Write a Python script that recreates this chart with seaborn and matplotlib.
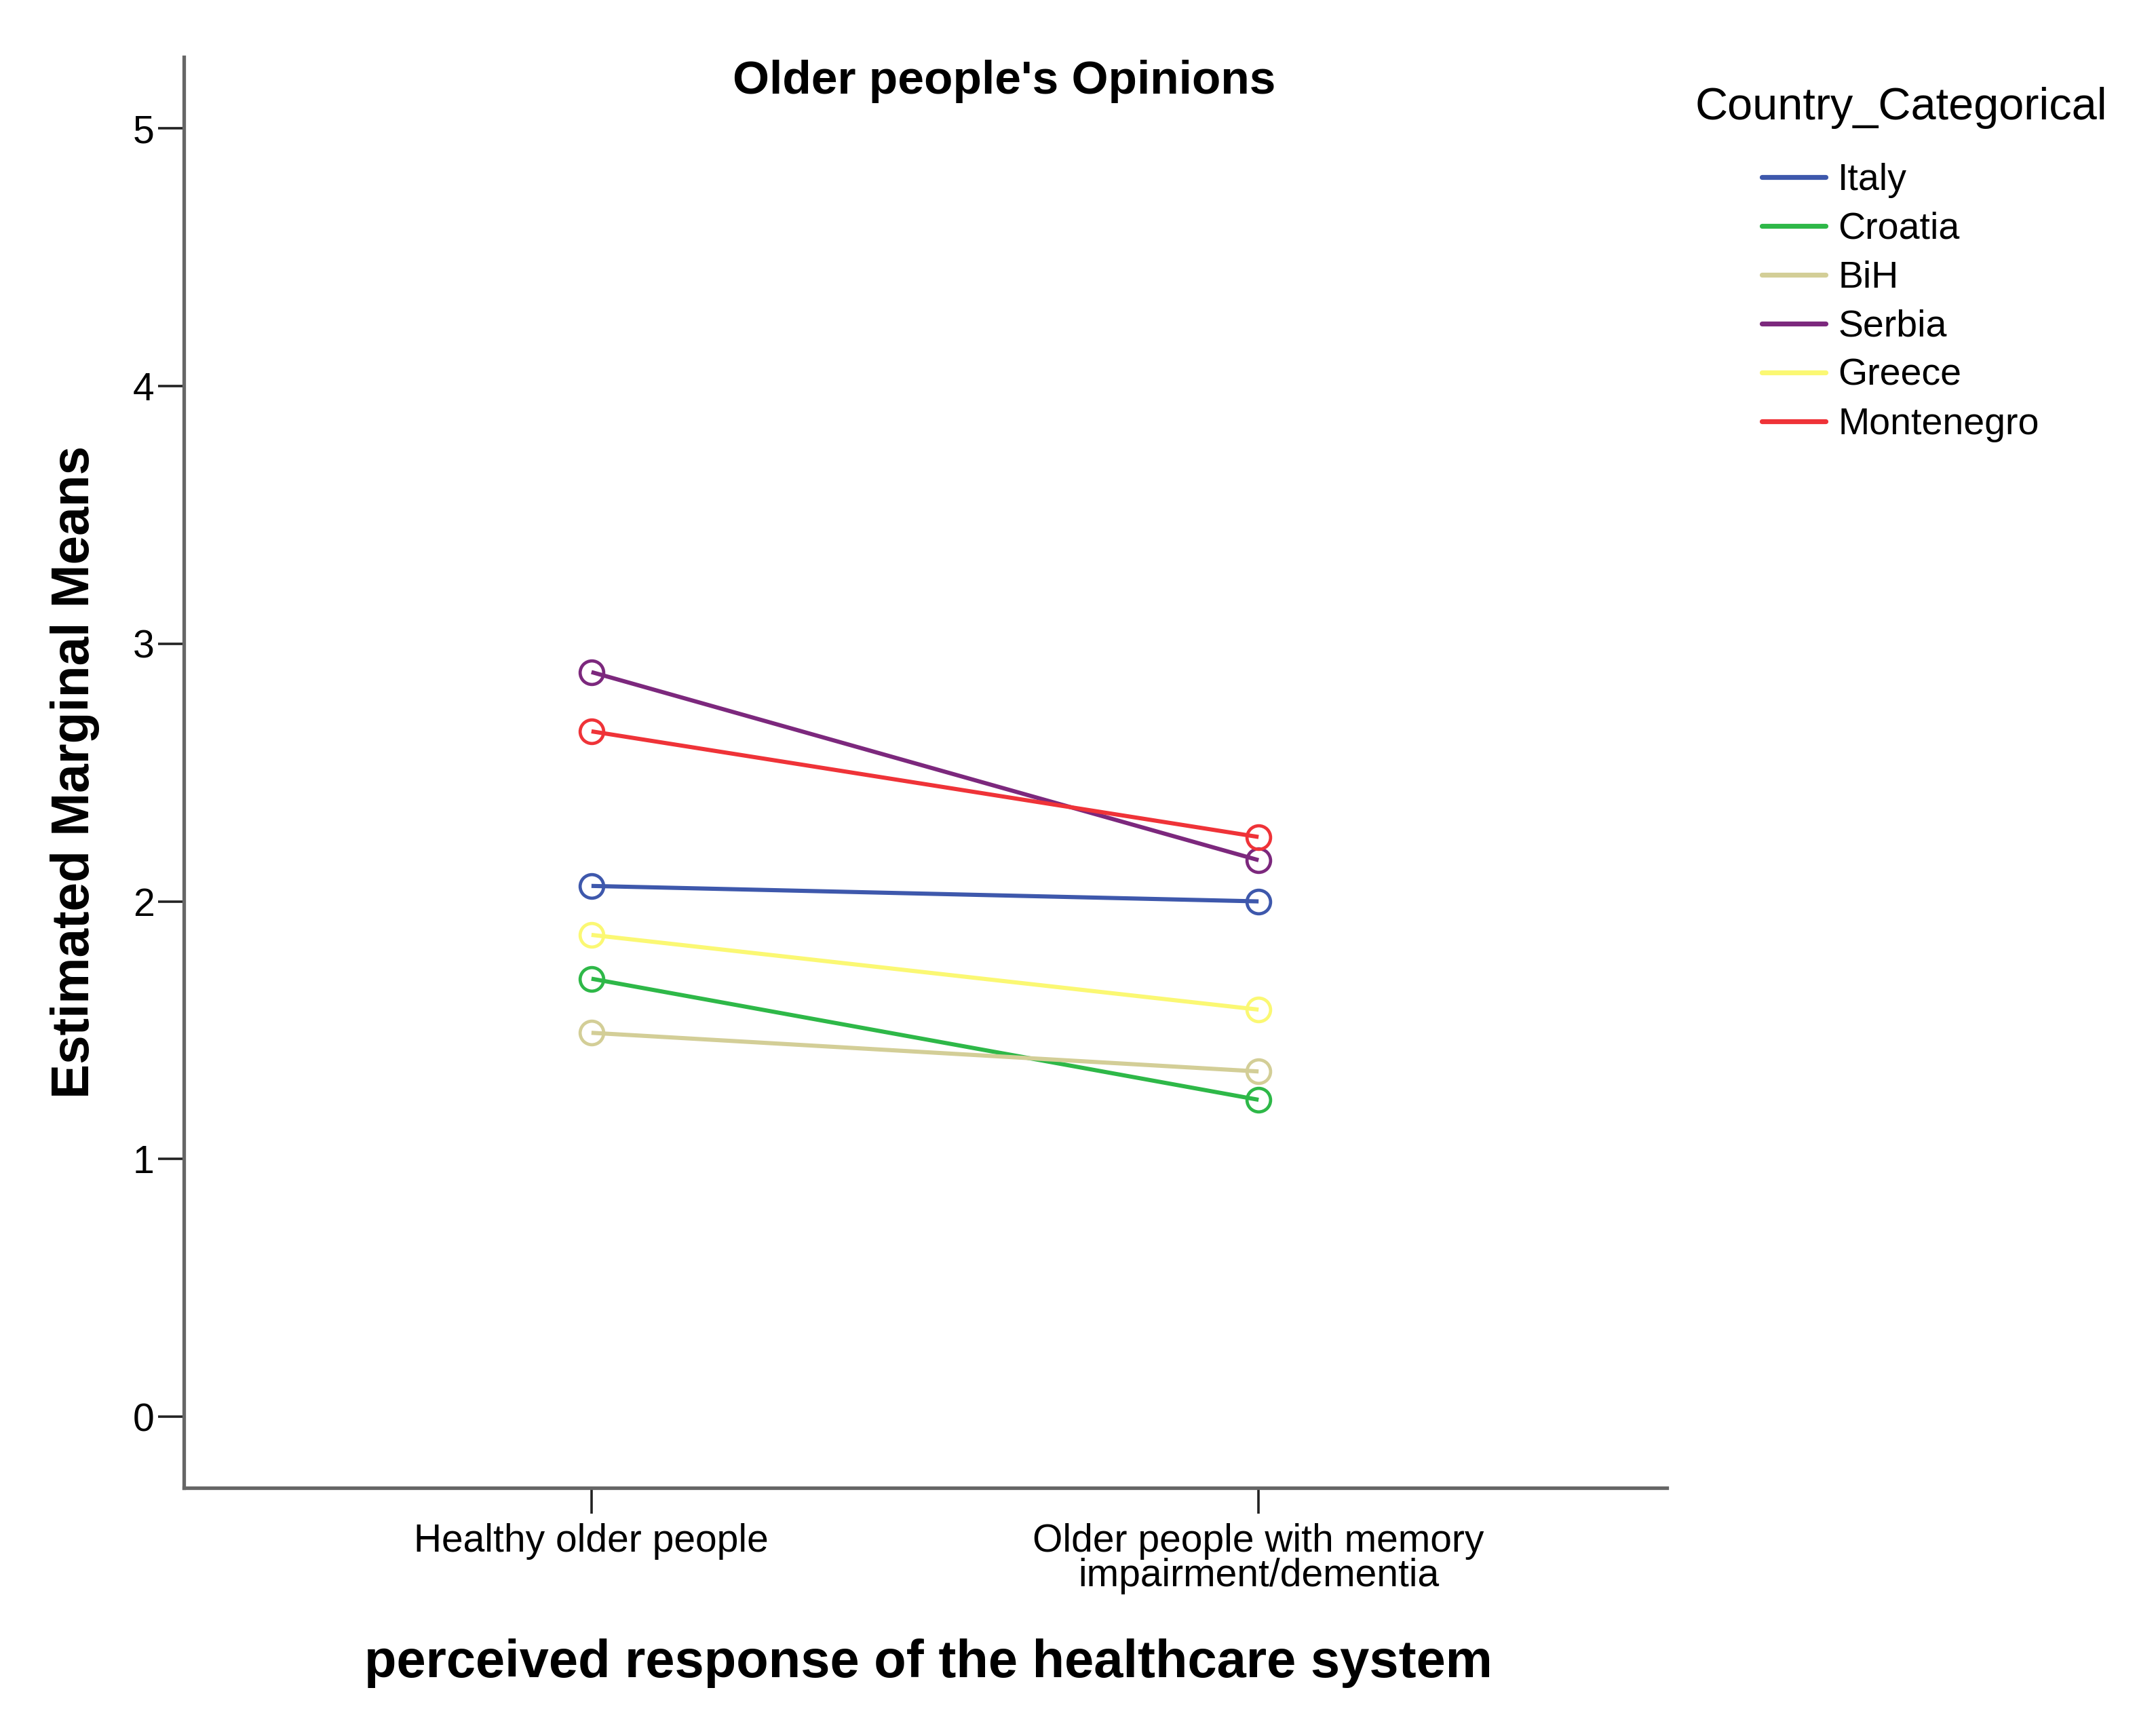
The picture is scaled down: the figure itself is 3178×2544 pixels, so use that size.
import matplotlib
matplotlib.use("Agg")
import matplotlib.pyplot as plt
from matplotlib.lines import Line2D
import seaborn as sns
import pandas as pd

# ---- data ----
countries = ["Italy", "Croatia", "BiH", "Serbia", "Greece", "Montenegro"]
categories = ["Healthy older people", "Older people with memory\nimpairment/dementia"]
healthy = [2.06, 1.70, 1.49, 2.89, 1.87, 2.66]
dementia = [2.00, 1.23, 1.34, 2.16, 1.58, 2.25]
colors = ["#3E58AC", "#2EB848", "#D3CE97", "#7C287D", "#FBF873", "#EF3338"]
y_ticks = [0, 1, 2, 3, 4, 5]

title = "Older people's Opinions"
x_label = "perceived response of the healthcare system"
y_label = "Estimated Marginal Means"
legend_title = "Country_Categorical"

rows = []
for c, h, d in zip(countries, healthy, dementia):
    rows.append({"country": c, "category": categories[0], "mean": h})
    rows.append({"country": c, "category": categories[1], "mean": d})
df = pd.DataFrame(rows)

sns.set_style("white")
plt.rcParams["font.family"] = ["Liberation Sans", "DejaVu Sans"]
plt.rcParams["text.color"] = "black"
plt.rcParams["axes.labelcolor"] = "black"
plt.rcParams["xtick.color"] = "black"
plt.rcParams["ytick.color"] = "black"

W, H = 3178, 2544
DPI = 200
fig = plt.figure(figsize=(W / DPI, H / DPI), dpi=DPI)
fig.patch.set_facecolor("white")

ax_l, ax_r, ax_t, ax_b = 271, 2457, 84, 2193
ax = fig.add_axes([ax_l / W, 1 - ax_b / H, (ax_r - ax_l) / W, (ax_b - ax_t) / H])

palette = dict(zip(countries, colors))
sns.pointplot(
    data=df, x="category", y="mean", hue="country",
    order=categories, hue_order=countries, palette=palette,
    markers="o", linestyles="-", errorbar=None, legend=False,
    linewidth=2.2, markersize=12.5, markeredgewidth=1.7,
    markerfacecolor="none", ax=ax,
)
for line in ax.lines:
    line.set_markerfacecolor("none")
    line.set_markeredgecolor(line.get_color())
    line.set_solid_capstyle("butt")

ax.set_xlim(-0.611, 1.612)
ax.set_ylim(-0.276, 5.277)
ax.set_yticks(y_ticks)
ax.set_yticklabels([str(t) for t in y_ticks])
ax.set_xlabel("")
ax.set_ylabel("")

for side in ["top", "right"]:
    ax.spines[side].set_visible(False)
for side in ["left", "bottom"]:
    ax.spines[side].set_color("#666666")
    ax.spines[side].set_linewidth(1.9)

ax.tick_params(axis="y", direction="out", length=13.7, width=1.3, color="#222222",
               labelsize=20.5, labelcolor="black", pad=2, left=True)
ax.tick_params(axis="x", direction="out", length=13.7, width=1.3, color="#222222",
               labelsize=20.5, labelcolor="black", pad=5, bottom=True)
for lab in ax.get_xticklabels():
    lab.set_linespacing(0.93)

fig.text(1480 / W, 1 - 138 / H, title, ha="center", va="baseline",
         fontsize=25, fontweight="bold", color="black")
fig.text(1368 / W, 1 - 2472 / H, x_label, ha="center", va="baseline",
         fontsize=28, fontweight="bold", color="black")
fig.text(111 / W, 1 - 1138 / H, y_label, ha="center", va="center",
         rotation=90, fontsize=27.6, fontweight="bold", color="black")

fig.text(2499 / W, 1 - 176 / H, legend_title, ha="left", va="baseline",
         fontsize=24, color="black")
handles = [Line2D([0], [0], color=c, linewidth=2.6) for c in colors]
leg = fig.legend(handles, countries, loc="upper left",
                 bbox_to_anchor=(2597 / W, 1 - 240 / H), frameon=False,
                 fontsize=20, handlelength=1.7, handletextpad=0.32,
                 labelspacing=0.36, borderpad=0, borderaxespad=0)
for t in leg.get_texts():
    t.set_color("black")

fig.savefig("out.png", dpi=DPI, facecolor="white")
